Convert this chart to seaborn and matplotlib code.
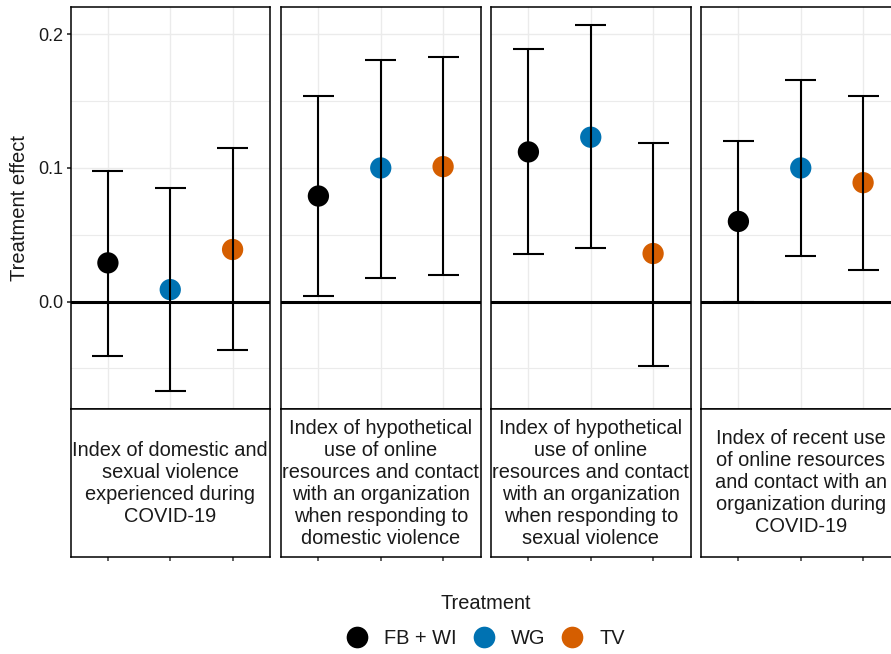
import numpy as np
import pandas as pd
import matplotlib
matplotlib.use("Agg")
import matplotlib.pyplot as plt
from matplotlib.lines import Line2D
import seaborn as sns

# ===============================
# DATA
# ===============================
outcomes = [
    "Index of domestic and\nsexual violence\nexperienced during\nCOVID-19",
    "Index of hypothetical\nuse of online\nresources and contact\nwith an organization\nwhen responding to\ndomestic violence",
    "Index of hypothetical\nuse of online\nresources and contact\nwith an organization\nwhen responding to\nsexual violence",
    "Index of recent use\nof online resources\nand contact with an\norganization during\nCOVID-19",
]
treatments = ["FB + WI", "WG", "TV"]

estimate = [0.029, 0.009, 0.039,
            0.079, 0.100, 0.101,
            0.112, 0.123, 0.036,
            0.060, 0.100, 0.089]
lower = [-0.041, -0.067, -0.036,
         0.004, 0.018, 0.020,
         0.036, 0.040, -0.048,
         0.000, 0.034, 0.024]
upper = [0.098, 0.085, 0.115,
         0.154, 0.181, 0.183,
         0.189, 0.207, 0.119,
         0.120, 0.166, 0.154]

colors = {"FB + WI": "#000000", "WG": "#0072B2", "TV": "#D55E00"}

df = pd.DataFrame({
    "outcome": np.repeat(outcomes, len(treatments)),
    "treatment": treatments * len(outcomes),
    "estimate": estimate,
    "lower": lower,
    "upper": upper,
})
df["pos"] = df["treatment"].map({t: i for i, t in enumerate(treatments)})

# ===============================
# STYLE
# ===============================
sns.set_theme(style="whitegrid")
plt.rcParams["font.family"] = ["Liberation Sans", "DejaVu Sans"]
plt.rcParams["font.size"] = 14

W, H = 891, 654
fig = plt.figure(figsize=(W / 100, H / 100), dpi=100)

lefts = [70.5, 281, 491, 701]
pw = 199.5
grid_col = "#EBEBEB"
txt_col = "#1a1a1a"

for i, out in enumerate(outcomes):
    sub = df[df["outcome"] == out]
    ax = fig.add_axes([lefts[i] / W, 1 - 409 / H, pw / W, 402 / H])
    sax = fig.add_axes([lefts[i] / W, 1 - 557 / H, pw / W, 148 / H])

    sns.scatterplot(data=sub, x="pos", y="estimate", hue="treatment",
                    palette=colors, hue_order=treatments, s=235,
                    edgecolor="none", legend=False, ax=ax, zorder=3)
    ax.vlines(sub["pos"], sub["lower"], sub["upper"], color="black",
              lw=1.5, zorder=4)
    ax.hlines(sub["lower"], sub["pos"] - 0.25, sub["pos"] + 0.25,
              color="black", lw=1.5, zorder=4)
    ax.hlines(sub["upper"], sub["pos"] - 0.25, sub["pos"] + 0.25,
              color="black", lw=1.5, zorder=4)
    ax.axhline(0, color="black", lw=2.2, zorder=2)

    ax.set_xlim(-0.6, 2.6)
    ax.set_ylim(-0.0803, 0.2204)
    ax.set_yticks([0.0, 0.1, 0.2])
    ax.set_yticks([-0.05, 0.05, 0.15], minor=True)
    ax.set_xticks(range(len(treatments)))
    ax.set_xticklabels([])
    ax.grid(True, which="major", color=grid_col, lw=1.0)
    ax.grid(True, which="minor", axis="y", color=grid_col, lw=0.8)
    ax.set_axisbelow(True)
    ax.set_xlabel("")
    ax.tick_params(axis="x", length=0)
    if i == 0:
        ax.set_yticklabels(["0.0", "0.1", "0.2"])
        ax.tick_params(axis="y", which="major", length=3, color="#333333",
                       pad=2, labelsize=13, labelcolor=txt_col, left=True)
        ax.tick_params(axis="y", which="minor", length=0)
        ax.set_ylabel("Treatment effect", fontsize=14.5, color=txt_col)
        ax.yaxis.set_label_coords(-0.21, 0.5)
    else:
        ax.set_yticklabels([])
        ax.set_ylabel("")
        ax.tick_params(axis="y", which="both", length=0)
    for sp in ax.spines.values():
        sp.set_color("black")
        sp.set_linewidth(1.1)

    # strip below panel
    sax.set_xlim(-0.6, 2.6)
    sax.set_ylim(0, 1)
    sax.set_xticks(range(len(treatments)))
    sax.set_xticklabels([])
    sax.set_yticks([])
    sax.grid(False)
    sax.tick_params(axis="x", length=3, color="#4D4D4D", bottom=True)
    for sp in sax.spines.values():
        sp.set_color("black")
        sp.set_linewidth(1.1)
    sax.text(0.5, 0.5, out, transform=sax.transAxes, ha="center",
             va="center", fontsize=14.4, linespacing=1.2, color=txt_col)

handles = [Line2D([0], [0], marker="o", linestyle="", markersize=15.6,
                  markerfacecolor=colors[t], markeredgecolor="none")
           for t in treatments]
leg = fig.legend(handles, treatments, title="Treatment", loc="center",
                 bbox_to_anchor=(486 / W, 1 - 621 / H), ncol=3,
                 frameon=False, fontsize=14.4, title_fontsize=14.4,
                 handlelength=1.0, handletextpad=0.85, columnspacing=0.85,
                 labelspacing=0.8)
leg.get_title().set_color(txt_col)
for t in leg.get_texts():
    t.set_color(txt_col)

plt.savefig("out.png", dpi=100)
